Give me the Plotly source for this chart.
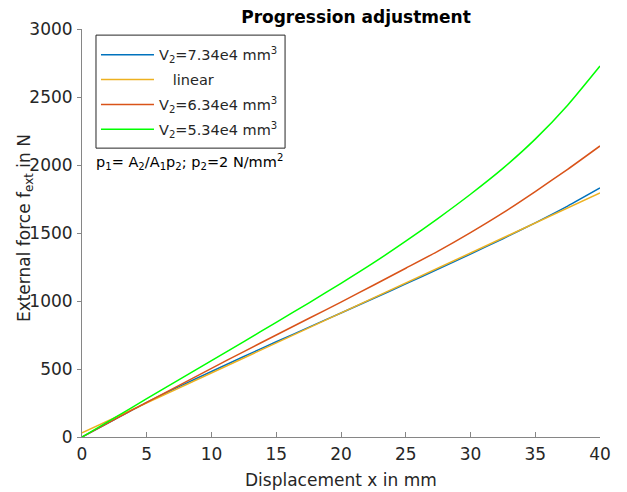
import plotly.graph_objects as go

x_grid = [0, 2.5, 5, 7.5, 10, 12.5, 15, 17.5, 20, 22.5, 25, 27.5, 30, 32.5, 35, 37.5, 40]

f_v734 = [0, 128, 255, 370, 482, 592, 700, 806, 912, 1018, 1126, 1235, 1345, 1458, 1575, 1698, 1831]
f_v634 = [0, 128, 255, 380, 505, 628, 750, 871, 992, 1116, 1241, 1367, 1503, 1648, 1805, 1968, 2140]
f_v534 = [0, 140, 282, 422, 562, 702, 843, 985, 1130, 1280, 1440, 1608, 1785, 1975, 2190, 2440, 2728]

x_linear = [0, 40]
f_linear = [30, 1794]

x_ticks = [0, 5, 10, 15, 20, 25, 30, 35, 40]
y_ticks = [0, 500, 1000, 1500, 2000, 2500, 3000]

names = [
    "V<sub>2</sub>=7.34e4 mm<sup>3</sup>",
    "\u00a0\u00a0\u00a0linear",
    "V<sub>2</sub>=6.34e4 mm<sup>3</sup>",
    "V<sub>2</sub>=5.34e4 mm<sup>3</sup>",
]
colors = ["#0072BD", "#EDB120", "#D95319", "#00FF00"]

font = "DejaVu Sans"
fig = go.Figure()
series = [(x_grid, f_v734), (x_linear, f_linear), (x_grid, f_v634), (x_grid, f_v534)]
for i, ((xs, ys), nm, c) in enumerate(zip(series, names, colors)):
    fig.add_trace(go.Scatter(x=xs, y=ys, mode="lines", name=nm, legendgroup=f"g{i}",
                             line=dict(color=c, width=1.5, shape="spline", smoothing=0.6)))

fig.update_layout(
    width=619, height=484,
    margin=dict(l=74, r=27, t=21, b=55),
    paper_bgcolor="white", plot_bgcolor="white",
    font=dict(family=font, size=15, color="#262626"),
    title=dict(text="<b>Progression adjustment</b>", xref="paper", x=0.529, xanchor="center",
               y=0.982, yanchor="middle", font=dict(size=17, color="black")),
    showlegend=True,
    legend=dict(x=0.027, y=0.976, xanchor="left", yanchor="top",
                borderwidth=0, bgcolor="rgba(0,0,0,0)",
                font=dict(size=14.5, color="#262626"), tracegroupgap=3,
                itemwidth=53),
    xaxis=dict(range=[0, 40], tickvals=x_ticks, ticks="inside", ticklen=5,
               tickcolor="#868686", showline=True, linecolor="#868686", linewidth=1,
               showgrid=False, zeroline=False, automargin=False,
               ticklabelstandoff=2, tickfont=dict(size=17)),
    yaxis=dict(range=[0, 3000], tickvals=y_ticks, ticks="outside", ticklen=4,
               tickcolor="#868686", showline=True, linecolor="#868686", linewidth=1,
               showgrid=False, zeroline=False, automargin=False,
               ticklabelstandoff=1, tickfont=dict(size=17)),
    shapes=[dict(type="rect", xref="paper", yref="paper", x0=0.027, x1=0.392,
                 y0=0.708, y1=0.985, line=dict(color="#262626", width=1),
                 fillcolor="white", layer="above")],
    annotations=[
        dict(text="p<sub>1</sub>= A<sub>2</sub>/A<sub>1</sub>p<sub>2</sub>; p<sub>2</sub>=2 N/mm<sup>2</sup>",
             xref="paper", yref="paper", x=0.024, y=0.674, xanchor="left", yanchor="middle",
             showarrow=False, font=dict(size=14.5, color="black")),
        dict(text="Displacement x in mm", xref="paper", yref="paper", x=0.5, y=0,
             xanchor="center", yanchor="middle", yshift=-43, showarrow=False,
             font=dict(size=17, color="#262626")),
        dict(text="External force f<sub>ext</sub> in N", xref="paper", yref="paper",
             x=0, y=0.512, xanchor="center", yanchor="middle", xshift=-57,
             textangle=-90, showarrow=False, font=dict(size=17, color="#262626")),
    ],
)

fig.write_html("out.html")
